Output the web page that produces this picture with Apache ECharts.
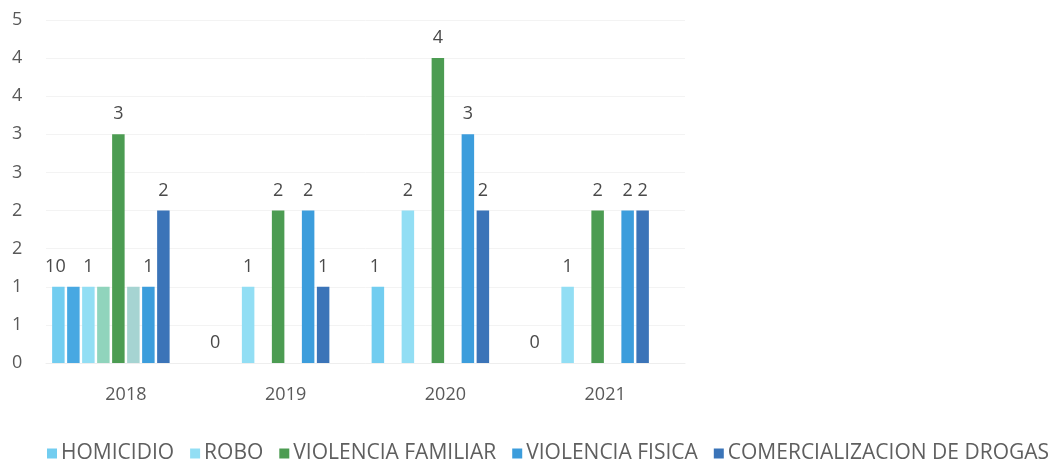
<!DOCTYPE html>
<html>
<head>
<meta charset="utf-8">
<script src="https://cdn.jsdelivr.net/npm/echarts@6/dist/echarts.min.js"></script>
<style>
html,body{margin:0;padding:0;background:#fff;}
#chart{width:1057px;height:459px;}
</style>
</head>
<body>
<div id="chart"></div>
<script>
// Categories (years)
var years = ['2018', '2019', '2020', '2021'];
// Y-axis tick labels as printed (ticks every 0.5, rounded by the source chart)
var yTickLabels = ['0', '1', '1', '2', '2', '3', '3', '4', '4', '5'];

// Visible (legend) series
var homicidio = [1, 0, 1, 0];
var robo = [1, 1, 2, 1];
var violenciaFamiliar = [3, 2, 4, 2];
var violenciaFisica = [1, 2, 3, 2];
var comercializacion = [2, 1, 2, 2];
// Label texts printed above HOMICIDIO bars
var homicidioLabels = ['10', '0', '1', '0'];

// Unnamed extra bars that appear only in 2018
var extraA = [1, '-', '-', '-'];
var extraB = [1, '-', '-', '-'];
var extraC = [1, '-', '-', '-'];
var emptySeries = ['-', '-', '-', '-'];

var legendNames = ['HOMICIDIO', 'ROBO', 'VIOLENCIA FAMILIAR', 'VIOLENCIA FISICA', 'COMERCIALIZACION DE DROGAS'];

var FONT = 'Open Sans';
var labelStyle = {
  show: true, position: 'top', distance: 11,
  fontFamily: FONT, fontSize: 18, color: '#4a4a4a'
};

function bar(name, data, color, withLabel, formatter, offset) {
  var s = {
    name: name, type: 'bar', data: data,
    barWidth: 12.5, barGap: '20%',
    itemStyle: { color: color },
    label: withLabel ? Object.assign({}, labelStyle) : { show: false },
    emphasis: { disabled: true }
  };
  if (formatter) s.label.formatter = formatter;
  if (offset) s.label.offset = offset;
  return s;
}

var chart = echarts.init(document.getElementById('chart'), null, { renderer: 'canvas' });
chart.setOption({
  animation: false,
  backgroundColor: '#ffffff',
  grid: { left: 46, right: 372, top: 20, bottom: 96, containLabel: false },
  legend: {
    data: legendNames,
    bottom: -10, left: 42, right: 0,
    itemWidth: 10, itemHeight: 10, itemGap: 16,
    icon: 'rect',
    textStyle: { fontFamily: FONT, fontSize: 21, color: '#5f5f5f', padding: [0, 0, 0, -1] }
  },
  xAxis: {
    type: 'category', data: years,
    axisLine: { show: true, lineStyle: { color: '#eeeeee' } },
    axisTick: { show: false },
    axisLabel: { fontFamily: FONT, fontSize: 18, color: '#595959', margin: 23 }
  },
  yAxis: {
    type: 'value', min: 0, max: 4.5, interval: 0.5,
    axisLine: { show: false }, axisTick: { show: false },
    splitLine: { lineStyle: { color: '#f3f3f3' } },
    axisLabel: {
      fontFamily: FONT, fontSize: 18, color: '#595959', margin: 34, align: 'left',
      formatter: function (v) { return yTickLabels[Math.round(v / 0.5)]; }
    }
  },
  series: [
    bar('HOMICIDIO', homicidio, '#72cdf0', true, function (p) { return homicidioLabels[p.dataIndex]; }, [-3, 0]),
    bar('extraA', extraA, '#48a8e2', false),
    bar('ROBO', robo, '#92def4', true),
    bar('extraB', extraB, '#90d4bc', false),
    bar('VIOLENCIA FAMILIAR', violenciaFamiliar, '#4c9c52', true),
    bar('extraC', extraC, '#a6d4d2', false),
    bar('VIOLENCIA FISICA', violenciaFisica, '#3c9ddc', true),
    bar('COMERCIALIZACION DE DROGAS', comercializacion, '#3b74b8', true),
    bar('extraD', emptySeries, '#ffffff', false),
    bar('extraE', emptySeries, '#ffffff', false)
  ]
});
</script>
</body>
</html>
